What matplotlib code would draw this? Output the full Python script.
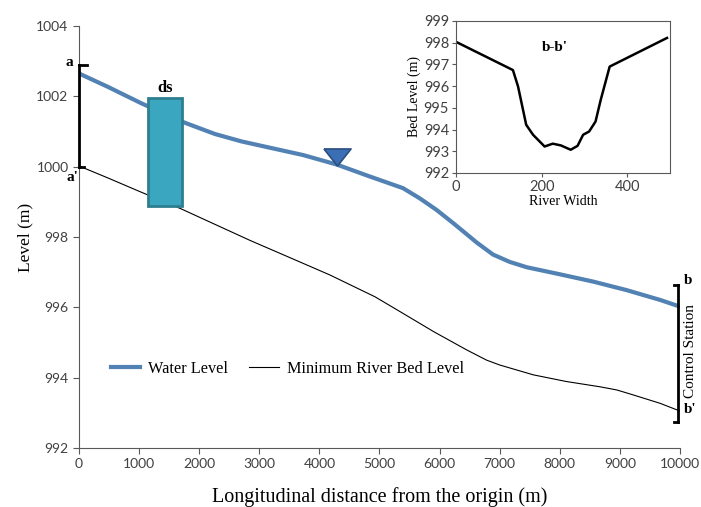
import matplotlib.pyplot as plt
import numpy as np

# main profile (longitudinal)
dist = [0, 480, 1040, 1760, 2260, 2700, 3200, 3730, 4290, 4840, 5390, 5670,
        5950, 6230, 6500, 6620, 6890, 7170, 7450, 8000, 8560, 9110, 9670, 10000]
water_level = [1002.65, 1002.27, 1001.80, 1001.25, 1000.93, 1000.72, 1000.53,
               1000.33, 1000.06, 999.72, 999.39, 999.10, 998.77, 998.39, 998.01,
               997.84, 997.50, 997.29, 997.14, 996.94, 996.73, 996.49, 996.21, 996.02]
bed_dist = [0, 480, 1000, 1700, 2300, 2850, 3500, 4175, 4925, 5340, 5900, 6450,
            6780, 7000, 7560, 8110, 8670, 8950, 9220, 9670, 10000]
bed_level = [1000.02, 999.68, 999.30, 998.80, 998.33, 997.90, 997.42, 996.92,
             996.30, 995.88, 995.31, 994.79, 994.50, 994.36, 994.08, 993.89,
             993.74, 993.65, 993.51, 993.27, 993.05]

# cross section b-b'
width = [0, 133, 145, 164, 180, 207, 226, 245, 268, 284, 297, 311, 326, 338, 359, 493]
section = [998.04, 996.74, 995.98, 994.22, 993.76, 993.22, 993.35, 993.27, 993.07,
           993.25, 993.76, 993.91, 994.37, 995.36, 996.9, 998.22]

serif = 'Liberation Serif'
tickfont = 'Lato'
gray = '#595959'

fig = plt.figure(figsize=(7.01, 5.07), dpi=100)
ax = fig.add_axes([0.1127, 0.1164, 0.8573, 0.8323])

ax.plot(dist, water_level, color='#5282b4', lw=3, label='Water Level', zorder=3,
        solid_joinstyle='round')
ax.plot(bed_dist, bed_level, color='black', lw=0.8, label='Minimum River Bed Level', zorder=3)

ax.set_xlim(0, 10000)
ax.set_ylim(992, 1004)
ax.set_xticks(np.arange(0, 10001, 1000))
ax.set_yticks(np.arange(992, 1005, 2))
for s in ['top', 'right']:
    ax.spines[s].set_visible(False)
for s in ['left', 'bottom']:
    ax.spines[s].set_color(gray)
ax.tick_params(colors=gray, labelcolor='#404040', length=4, labelsize=10)
for lab in ax.get_xticklabels() + ax.get_yticklabels():
    lab.set_family(tickfont)
ax.set_xlabel('Longitudinal distance from the origin (m)', fontsize=14.5, family=serif, labelpad=12)
ax.set_ylabel('Level (m)', fontsize=12.5, family=serif, labelpad=2)

ax.legend(loc='center left', bbox_to_anchor=(0.053, 0.187), ncol=2, frameon=False,
          prop={'family': serif, 'size': 11.7}, handlelength=1.8, handletextpad=0.5,
          columnspacing=1.3, borderpad=0, borderaxespad=0)

# ds box
ax.add_patch(plt.Rectangle((1153, 998.88), 556, 3.07, facecolor='#3aa6bf', edgecolor='#2d7f8f',
                           lw=2, zorder=4))
ax.text(1430, 1002.0, 'ds', family=serif, fontsize=12, fontweight='bold', ha='center', va='bottom')

# water surface marker (flat triangle)
tri = [(-1, 0.63), (1, 0.63), (0, -0.63), (-1, 0.63)]
ax.plot([4285], [1000.28], marker=tri, markersize=19.5, color='#3b6fb5',
        markeredgecolor='#2c4f80', markeredgewidth=1.2, zorder=5)

# a - a' bracket
ax.plot([0, 0], [1000.0, 1002.9], color='black', lw=2, clip_on=False, zorder=5)
ax.plot([0, 130], [1002.9, 1002.9], color='black', lw=2, clip_on=False, zorder=5)
ax.plot([0, 90], [999.98, 999.98], color='black', lw=2, clip_on=False, zorder=5)
ax.text(-90, 1002.95, 'a', family=serif, fontsize=11, fontweight='bold', ha='right', va='center')
ax.text(-15, 999.7, "a'", family=serif, fontsize=11, fontweight='bold', ha='right', va='center')

# b - b' bracket
ax.plot([9970, 9970], [992.75, 996.64], color='black', lw=2, clip_on=False, zorder=5)
ax.plot([9900, 9970], [996.64, 996.64], color='black', lw=2, clip_on=False, zorder=5)
ax.plot([9900, 9970], [992.75, 992.75], color='black', lw=2, clip_on=False, zorder=5)
ax.text(10060, 996.75, 'b', family=serif, fontsize=11, fontweight='bold', ha='left', va='center')
ax.text(10060, 993.1, "b'", family=serif, fontsize=11, fontweight='bold', ha='left', va='center')
ax.text(10075, 994.75, 'Control Station', family=serif, fontsize=11, rotation=90,
        ha='left', va='center')

# inset cross section
axi = fig.add_axes([0.6505, 0.6588, 0.3053, 0.2998])
axi.plot(width, section, color='black', lw=1.8)
axi.set_xlim(0, 500)
axi.set_ylim(992, 999)
axi.set_xticks([0, 200, 400])
axi.set_yticks(np.arange(992, 1000, 1))
for s in axi.spines.values():
    s.set_color(gray)
axi.tick_params(colors=gray, labelcolor='#404040', length=3, labelsize=10.5, pad=2)
for lab in axi.get_xticklabels() + axi.get_yticklabels():
    lab.set_family(tickfont)
axi.set_xlabel('River Width', family=serif, fontsize=10, labelpad=1)
axi.set_ylabel('Bed Level (m)', family=serif, fontsize=10, labelpad=2)
axi.text(230, 997.8, "b-b'", family=serif, fontsize=11, fontweight='bold', ha='center', va='center')

fig.savefig('out.png', dpi=100)
